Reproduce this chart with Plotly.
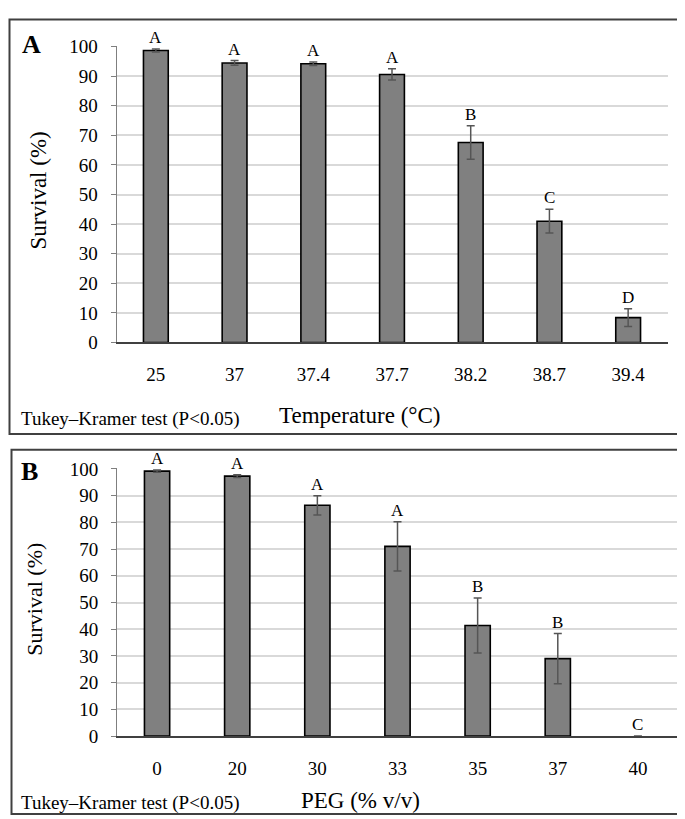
import plotly.graph_objects as go

W, H = 685, 819

# ---------------- data ----------------
temp_labels = ["25", "37", "37.4", "37.7", "38.2", "38.7", "39.4"]
temp_survival = [98.7, 94.5, 94.2, 90.6, 67.6, 41.0, 8.4]
temp_err = [0.5, 0.8, 0.6, 1.9, 5.7, 4.0, 3.0]
temp_letters = ["A", "A", "A", "A", "B", "C", "D"]

peg_labels = ["0", "20", "30", "33", "35", "37", "40"]
peg_survival = [99.2, 97.3, 86.4, 71.0, 41.4, 29.0, 0.0]
peg_err = [0.4, 0.5, 3.6, 9.2, 10.3, 9.4, 0.0]
peg_letters = ["A", "A", "A", "A", "B", "B", "C"]

y_ticks = list(range(0, 101, 10))

FONT = "Liberation Serif"


def px(x):
    return x / W


def py(y):
    return 1 - y / H


fig = go.Figure()

err_style = dict(type="data", color="#555555", thickness=1.5, width=4)


def bar_marker(values):
    # no outline drawn for a zero-height bar
    return dict(color=["#808080" if v > 0 else "rgba(0,0,0,0)" for v in values],
                line=dict(color=["#000000" if v > 0 else "rgba(0,0,0,0)" for v in values],
                          width=[1.6 if v > 0 else 0 for v in values]))


fig.add_trace(go.Bar(x=temp_labels, y=temp_survival,
                     marker=bar_marker(temp_survival),
                     error_y=dict(array=temp_err, **err_style),
                     xaxis="x", yaxis="y", showlegend=False, hoverinfo="skip"))
fig.add_trace(go.Bar(x=peg_labels, y=peg_survival,
                     marker=bar_marker(peg_survival),
                     error_y=dict(array=[e if e > 0 else None for e in peg_err], **err_style),
                     xaxis="x2", yaxis="y2", showlegend=False, hoverinfo="skip"))

xaxis_common = dict(type="category", range=[-0.5, 6.5], showline=True, linecolor="#404040",
                    linewidth=1.5, ticks="", showgrid=False, zeroline=False, tickangle=0,
                    tickfont=dict(family=FONT, size=19, color="#000"),
                    ticklabelstandoff=14, fixedrange=True)
yaxis_common = dict(range=[0, 100.3], tickvals=y_ticks, showline=True, linecolor="#7f7f7f",
                    linewidth=1, ticks="outside", ticklen=5, tickcolor="#7f7f7f",
                    showgrid=True, gridcolor="#d9d9d9", gridwidth=1.5, zeroline=False,
                    tickfont=dict(family=FONT, size=19, color="#000"),
                    ticklabelstandoff=9, fixedrange=True)

fig.update_layout(
    width=W, height=H,
    margin=dict(l=0, r=0, t=0, b=0),
    paper_bgcolor="white", plot_bgcolor="white",
    bargap=0.685,
    xaxis=dict(domain=[px(108.5), px(659.5)], anchor="y", **xaxis_common),
    yaxis=dict(domain=[py(333), py(28.5)], anchor="x", **yaxis_common),
    xaxis2=dict(domain=[px(109), px(670)], anchor="y2", **xaxis_common),
    yaxis2=dict(domain=[py(737), py(462)], anchor="x2", **yaxis_common),
)

ann = []
# letters above bars (x given as category index)
for i, (v, e, let) in enumerate(zip(temp_survival, temp_err, temp_letters)):
    ann.append(dict(x=i, y=v + e, xref="x", yref="y", text=let, showarrow=False,
                    yanchor="bottom", yshift=0, font=dict(family=FONT, size=17, color="#000")))
for i, (v, e, let) in enumerate(zip(peg_survival, peg_err, peg_letters)):
    ann.append(dict(x=i, y=v + e, xref="x2", yref="y2", text=let, showarrow=False,
                    yanchor="bottom", yshift=0, font=dict(family=FONT, size=17, color="#000")))

# panel labels
ann.append(dict(x=px(23), y=py(27), xref="paper", yref="paper", text="<b>A</b>", showarrow=False,
                xanchor="center", yanchor="middle", font=dict(family=FONT, size=26, color="#000")))
ann.append(dict(x=px(21), y=py(465), xref="paper", yref="paper", text="<b>B</b>", showarrow=False,
                xanchor="center", yanchor="middle", font=dict(family=FONT, size=26, color="#000")))

# y titles
ann.append(dict(x=px(30), y=py(177), xref="paper", yref="paper", text="Survival (%)", textangle=-90,
                showarrow=False, xanchor="center", yanchor="middle",
                font=dict(family=FONT, size=23, color="#000")))
ann.append(dict(x=px(27), y=py(597), xref="paper", yref="paper", text="Survival (%)", textangle=-90,
                showarrow=False, xanchor="center", yanchor="middle",
                font=dict(family=FONT, size=22, color="#000")))

# x titles and notes
ann.append(dict(x=px(351), y=py(408), xref="paper", yref="paper", text="Temperature (°C)",
                showarrow=False, xanchor="center", yanchor="middle",
                font=dict(family=FONT, size=23, color="#000")))
ann.append(dict(x=px(353), y=py(803), xref="paper", yref="paper", text="PEG (% v/v)",
                showarrow=False, xanchor="center", yanchor="middle",
                font=dict(family=FONT, size=23, color="#000")))
ann.append(dict(x=px(11), y=py(412), xref="paper", yref="paper", text="Tukey–Kramer test (P<0.05)",
                showarrow=False, xanchor="left", yanchor="middle",
                font=dict(family=FONT, size=19, color="#000")))
ann.append(dict(x=px(11), y=py(806), xref="paper", yref="paper", text="Tukey–Kramer test (P<0.05)",
                showarrow=False, xanchor="left", yanchor="middle",
                font=dict(family=FONT, size=19, color="#000")))

fig.update_layout(annotations=ann)

# panel frames
fig.add_shape(type="rect", xref="paper", yref="paper", x0=px(1.5), x1=px(683.5), y0=py(427), y1=py(1.5),
              line=dict(color="#404040", width=2))
fig.add_shape(type="rect", xref="paper", yref="paper", x0=px(3.5), x1=px(683.5), y0=py(817), y1=py(443),
              line=dict(color="#404040", width=2))

fig.write_html("out.html")
